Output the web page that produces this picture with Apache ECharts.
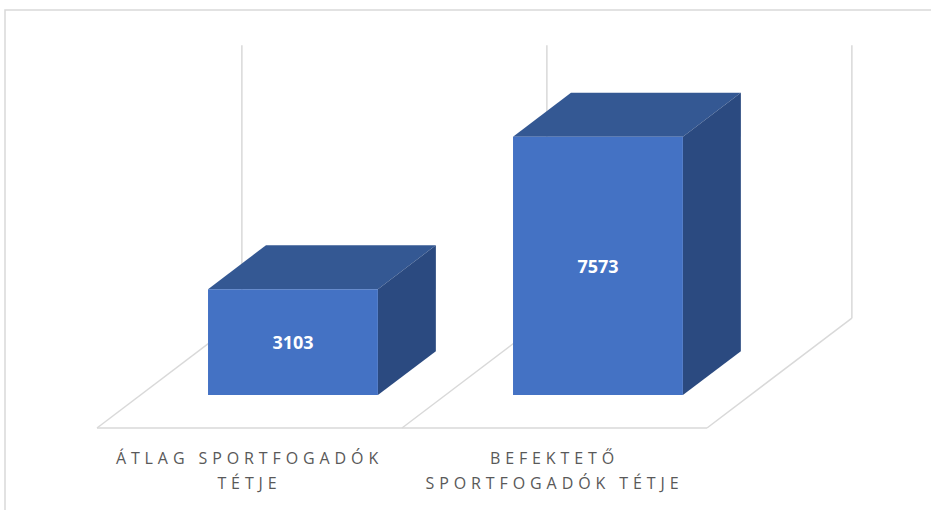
<!DOCTYPE html>
<html>
<head>
<meta charset="utf-8">
<script src="https://cdn.jsdelivr.net/npm/echarts@6/dist/echarts.min.js"></script>
<style>
    html, body { margin: 0; padding: 0; background: #fff; }
    #chart { width: 931px; height: 510px; }
    /* wide letter spacing of the category labels */
    #chart text { letter-spacing: 4.9px; }
    #chart text[style*="bold"], #chart text[fill="#fff"], #chart text[fill="#ffffff"] { letter-spacing: 0; }
</style>
</head>
<body>
<div id="chart"></div>
<script type="text/javascript">
    var categories = ['ÁTLAG SPORTFOGADÓK TÉTJE', 'BEFEKTETŐ SPORTFOGADÓK TÉTJE'];
    var values = [3103, 7573];
    var valueMax = 8000;

    var colFront = '#4472c4', colTop = '#345893', colSide = '#2b4a80';
    var gridColor = '#d9d9d9';
    // 3d look: depth vector as share of the category width
    var depthX = 0.475, depthY = -0.36;
    var barFrom = 0.3, barTo = 0.7, barShare = 0.557;

    function wrap(s, max) {
        var words = s.split(' '), lines = [], cur = '';
        words.forEach(function (w) {
            if (cur && (cur + ' ' + w).length > max) { lines.push(cur); cur = w; }
            else cur = cur ? cur + ' ' + w : w;
        });
        lines.push(cur);
        return lines.join('\n');
    }

    function renderFrame(params, api) {
        var c = api.value(0);
        var cw = api.size([1, 0])[0];
        var p0 = api.coord([c, 0]);
        var pTop = api.coord([c, valueMax]);
        var dx = depthX * cw, dy = depthY * cw;
        var xl = p0[0] - cw / 2, xr = p0[0] + cw / 2, y0 = p0[1], yTop = pTop[1];
        var segs = [
            [xl, y0, xr, y0],
            [xl, y0, xl + dx, y0 + dy],
            [xl + dx, y0 + dy, xl + dx, yTop + dy]
        ];
        if (params.dataIndex === categories.length - 1) {
            segs.push([xr, y0, xr + dx, y0 + dy]);
            segs.push([xr + dx, y0 + dy, xr + dx, yTop + dy]);
        }
        return {
            type: 'group',
            children: segs.map(function (s) {
                return {
                    type: 'line',
                    shape: { x1: s[0], y1: s[1], x2: s[2], y2: s[3] },
                    style: { stroke: gridColor, lineWidth: 1.5 }
                };
            })
        };
    }

    function renderBox(params, api) {
        var base = api.coord([api.value(0), 0]);
        var top = api.coord([api.value(0), api.value(1)]);
        var cw = api.size([1, 0])[0];
        var dx = depthX * cw, dy = depthY * cw;
        var w = barShare * cw;
        var x0 = base[0] - w / 2 + dx * barFrom, x1 = x0 + w;
        var yb = base[1] + dy * barFrom, yt = top[1] + dy * barFrom;
        var bx = dx * (barTo - barFrom), by = dy * (barTo - barFrom);
        return {
            type: 'group',
            children: [
                { type: 'polygon', shape: { points: [[x0, yt], [x1, yt], [x1 + bx, yt + by], [x0 + bx, yt + by]] }, style: { fill: colTop } },
                { type: 'polygon', shape: { points: [[x1, yt], [x1 + bx, yt + by], [x1 + bx, yb + by], [x1, yb]] }, style: { fill: colSide } },
                { type: 'rect', shape: { x: x0, y: yt, width: w, height: yb - yt }, style: { fill: colFront } },
                {
                    type: 'text', x: (x0 + x1) / 2, y: (yt + yb) / 2,
                    style: {
                        text: String(api.value(1)), fill: '#fff',
                        fontSize: 18, fontWeight: 'bold', fontFamily: 'Open Sans',
                        align: 'center', verticalAlign: 'middle'
                    }
                }
            ]
        };
    }

    var chart = echarts.init(document.getElementById('chart'), null, { renderer: 'svg' });

    var options = {
        animation: false,
        graphic: [{
            type: 'rect', silent: true,
            shape: { x: 5, y: 10, width: 1000, height: 600 },
            style: { fill: 'none', stroke: gridColor, lineWidth: 1.5 }
        }],
        grid: { left: 97, right: 224, top: 155, bottom: 82 },
        xAxis: {
            type: 'category',
            data: categories,
            axisLine: { show: false },
            axisTick: { show: false },
            axisLabel: {
                interval: 0,
                margin: 17,
                color: '#595959',
                fontSize: 16,
                fontFamily: 'Open Sans',
                lineHeight: 25,
                formatter: function (v) { return wrap(v, 20); }
            }
        },
        yAxis: {
            type: 'value', min: 0, max: valueMax, show: false,
            splitLine: { show: false }
        },
        series: [{
            type: 'custom',
            clip: false,
            silent: true,
            renderItem: renderFrame,
            data: categories.map(function (c, i) { return [i]; }),
            z: 1
        }, {
            type: 'custom',
            clip: false,
            renderItem: renderBox,
            data: values.map(function (v, i) { return [i, v]; }),
            z: 2
        }]
    };

    chart.setOption(options);
</script>
</body>
</html>
